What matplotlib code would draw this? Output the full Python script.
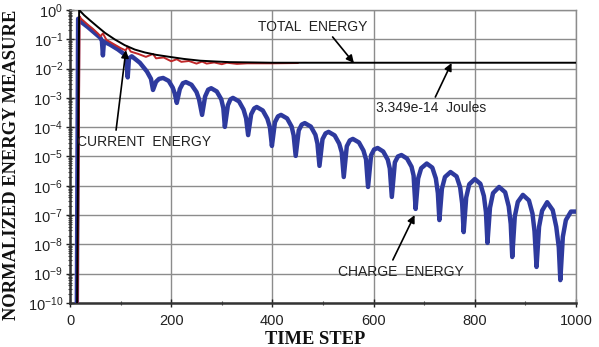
import numpy as np
import matplotlib
matplotlib.use("Agg")
import matplotlib.pyplot as plt
from matplotlib.ticker import MultipleLocator, LogLocator, NullFormatter

plt.rcParams['font.family'] = ['Liberation Sans', 'DejaVu Sans']

# ---------------- data (y stored as log10) ----------------
total_t = [14, 18, 28, 40, 55, 69, 88, 108, 128, 148, 170, 197, 225, 257, 290, 316, 360, 400, 1000]
total_log = [-10, 0.0, -0.18, -0.36, -0.58, -0.78, -1.0, -1.2, -1.35, -1.45, -1.53, -1.6, -1.67,
             -1.73, -1.76, -1.78, -1.79, -1.8, -1.8]

current_t = [15, 19, 22, 35, 45, 55, 60, 65, 72, 85, 100, 110, 114, 120, 135, 150, 164, 170,
             185, 200, 211, 220, 235, 250, 261, 270, 285, 300, 310, 330, 350, 400, 450]
current_log = [-10, -0.22, -0.3, -0.5, -0.64, -0.8, -0.9, -0.8, -1.02, -1.15, -1.3, -1.38, -1.25,
               -1.42, -1.5, -1.6, -1.5, -1.65, -1.62, -1.75, -1.68, -1.77, -1.74, -1.83, -1.76,
               -1.83, -1.79, -1.85, -1.8, -1.84, -1.82, -1.82, -1.81]

charge_t = [13.5, 16, 20, 35, 50, 60, 63, 65, 67, 79, 95, 108, 111.5, 114, 116.5, 122, 138, 152, 160,
            164, 170, 176, 184, 195, 203, 207,
            211, 217, 223, 229, 240, 250, 255,
            261, 267, 273, 279, 290, 299, 303,
            306, 312, 317, 322, 334, 343, 348,
            352, 358, 364, 369, 381, 390, 395,
            399, 405, 411, 417, 429, 438, 442,
            446, 452, 458, 464, 476, 485, 489,
            493, 499, 505, 511, 523, 532, 537,
            541, 547, 553, 559, 571, 580, 585,
            589, 595, 601, 608, 619, 628, 632,
            636, 642, 648, 655, 666, 675, 679,
            683, 688, 694, 705, 716, 723, 727,
            730, 735, 741, 752, 764, 771, 775,
            778, 783, 789, 800, 811, 818, 822,
            825, 830, 836, 848, 860, 867, 871,
            874, 879, 885, 895, 907, 914, 918,
            922, 927, 933, 943, 954, 961, 966,
            969, 974, 980, 990, 1000]
charge_log = [-10, -0.3, -0.38, -0.58, -0.8, -0.95, -1.05, -1.55, -1.08, -1.18, -1.35, -1.52, -1.65, -2.3, -1.65, -1.58, -1.8, -2.1, -2.35,
              -2.73, -2.45, -2.35, -2.32, -2.42, -2.65, -2.85,
              -3.17, -2.7, -2.5, -2.46, -2.55, -2.8, -3.05,
              -3.58, -2.95, -2.72, -2.67, -2.78, -3.05, -3.35,
              -3.99, -3.25, -3.05, -3.0, -3.12, -3.4, -3.7,
              -4.27, -3.56, -3.36, -3.31, -3.43, -3.71, -4.0,
              -4.64, -3.83, -3.63, -3.58, -3.70, -3.98, -4.28,
              -4.98, -4.11, -3.91, -3.86, -3.98, -4.26, -4.56,
              -5.32, -4.41, -4.21, -4.16, -4.28, -4.56, -4.86,
              -5.70, -4.65, -4.45, -4.40, -4.52, -4.80, -5.1,
              -6.04, -4.96, -4.76, -4.71, -4.83, -5.11, -5.41,
              -6.38, -5.2, -5.0, -4.95, -5.07, -5.35, -5.65,
              -6.79, -5.75, -5.4, -5.24, -5.38, -5.75, -6.25,
              -7.17, -6.1, -5.7, -5.53, -5.68, -6.05, -6.6,
              -7.58, -6.4, -5.95, -5.77, -5.93, -6.35, -6.9,
              -7.95, -6.75, -6.25, -6.04, -6.22, -6.7, -7.3,
              -8.43, -7.05, -6.55, -6.31, -6.5, -6.95, -7.55,
              -8.77, -7.4, -6.85, -6.56, -6.83, -7.4, -8.1,
              -9.22, -7.74, -7.17, -6.88, -6.88]

x_ticks = [0, 200, 400, 600, 800, 1000]

# ---------------- figure ----------------
fig = plt.figure(figsize=(5.99, 3.47), dpi=100)
ax = fig.add_axes([0.1169, 0.1268, 0.8447, 0.8444])

ax.plot(charge_t, 10.0 ** np.array(charge_log), color='#2E3A9E', lw=3.2, zorder=3,
        solid_joinstyle='round')
ax.plot(current_t, 10.0 ** np.array(current_log), color='#C0282A', lw=1.4, zorder=4)
ax.plot(total_t, 10.0 ** np.array(total_log), color='black', lw=1.4, zorder=5)

ax.set_yscale('log')
ax.set_xlim(0, 1000)
ax.set_ylim(1e-10, 1)
ax.set_xticks(x_ticks)
ax.xaxis.set_minor_locator(MultipleLocator(100))
ax.yaxis.set_major_locator(LogLocator(base=10, numticks=20))
ax.yaxis.set_minor_locator(LogLocator(base=10, subs=np.arange(2, 10), numticks=20))
ax.yaxis.set_minor_formatter(NullFormatter())

ax.grid(True, which='major', color='#8c8c8c', lw=1.0, zorder=1)
ax.tick_params(axis='both', which='major', direction='inout', length=6, width=1.0,
               labelsize=10.5, colors='#222222')
ax.tick_params(axis='x', which='major', pad=5)
ax.tick_params(axis='y', which='major', pad=2)
ax.tick_params(axis='both', which='minor', direction='inout', length=3, width=0.8, colors='#444444')
ax.tick_params(axis='y', which='both', right=False)
ax.tick_params(axis='x', which='both', top=False)
for s in ['top', 'right']:
    ax.spines[s].set_color('#8c8c8c')
    ax.spines[s].set_linewidth(1.0)
for s in ['left', 'bottom']:
    ax.spines[s].set_color('#333333')
    ax.spines[s].set_linewidth(1.8)

ax.set_ylabel('NORMALIZED ENERGY MEASURE', family=['Liberation Serif'], weight='bold',
              fontsize=13.3, color='#111111')
ax.set_xlabel('TIME STEP', family=['Liberation Serif'], weight='bold',
              fontsize=13.3, color='#111111', labelpad=0)
ax.yaxis.set_label_coords(-0.098, 0.47)
ax.xaxis.set_label_coords(0.485, -0.095)

# annotations
arrow = dict(arrowstyle='-|>', color='black', lw=1.2, mutation_scale=11, shrinkA=0, shrinkB=0)
txt = dict(fontsize=10, color='#222222', ha='center', va='center', zorder=6)

ax.text(480, 10 ** -0.58, 'TOTAL  ENERGY', **txt)
ax.annotate('', xy=(561, 10 ** -1.81), xytext=(519, 10 ** -0.92), arrowprops=arrow, zorder=6)

ax.text(713, 10 ** -3.34, '3.349e-14  Joules', **txt)
ax.annotate('', xy=(754, 10 ** -1.81), xytext=(722, 10 ** -2.97), arrowprops=arrow, zorder=6)

ax.text(147, 10 ** -4.5, 'CURRENT  ENERGY', **txt)
ax.annotate('', xy=(110.5, 10 ** -1.37), xytext=(91, 10 ** -4.1), arrowprops=arrow, zorder=6)

ax.text(653, 10 ** -8.94, 'CHARGE  ENERGY', **txt)
ax.annotate('', xy=(681, 10 ** -7.0), xytext=(638, 10 ** -8.53), arrowprops=arrow, zorder=6)

fig.savefig('out.png', dpi=100)
